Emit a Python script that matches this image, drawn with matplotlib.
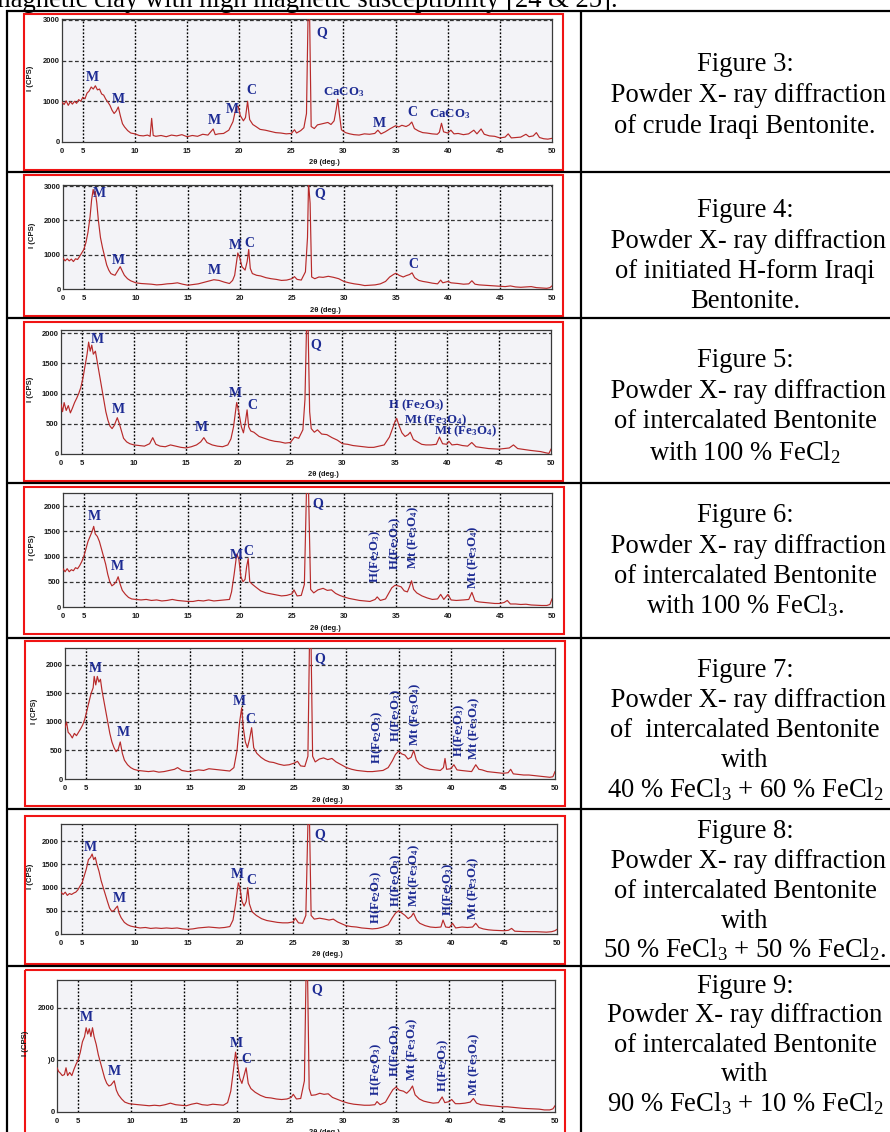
import matplotlib
matplotlib.use("Agg")
import matplotlib.pyplot as plt
from matplotlib.patches import Rectangle

plt.rcParams['mathtext.fontset'] = 'custom'
plt.rcParams['mathtext.rm'] = 'Liberation Serif'
plt.rcParams['mathtext.it'] = 'Liberation Serif:italic'
plt.rcParams['mathtext.bf'] = 'Liberation Serif:bold'

# ---------------- DATA ----------------
x_ticks = [3, 5, 10, 15, 20, 25, 30, 35, 40, 45, 50]
x_tick_labels = ['0', '5', '10', '15', '20', '25', '30', '35', '40', '45', '50']

xrd_fig3 = [(3.0,980),(3.2,920),(3.4,1010),(3.6,900),(3.8,990),(4.0,930),(4.2,1000),(4.4,950),(4.6,1040),(4.8,1000),
 (5.0,1100),(5.2,1060),(5.4,1200),(5.6,1250),(5.8,1350),(6.0,1300),(6.2,1380),(6.4,1280),(6.6,1300),(6.8,1180),
 (7.0,1150),(7.2,1050),(7.4,980),(7.6,900),(7.8,780),(8.0,700),(8.2,760),(8.4,860),(8.6,640),(8.8,450),(9.0,370),
 (9.3,280),(9.6,220),(10.0,200),(10.4,160),(10.8,150),(11.2,170),(11.45,140),(11.6,580),(11.75,160),(12.0,140),
 (12.5,160),(13.0,130),(13.5,170),(14.0,150),(14.5,180),(15.0,130),(15.5,160),(16.0,140),(16.5,190),(17.0,170),
 (17.5,320),(17.7,180),(18.0,200),(18.5,210),(19.0,290),(19.4,500),(19.7,850),(19.9,880),(20.1,650),(20.4,520),
 (20.6,600),(20.8,1000),(21.0,550),(21.3,430),(21.6,380),(22.0,310),(22.5,290),(23.0,260),(23.5,230),(24.0,220),
 (24.5,200),(25.0,210),(25.3,300),(25.5,220),(25.9,280),(26.2,350),(26.45,700),(26.6,3100),(26.75,3100),(26.9,380),
 (27.2,330),(27.5,420),(28.0,450),(28.5,480),(28.8,430),(29.1,520),(29.3,800),(29.45,1050),(29.6,700),(29.8,300),
 (30.2,230),(30.6,200),(31.0,180),(31.5,170),(32.0,200),(32.5,190),(33.0,210),(33.3,290),(33.6,200),(34.0,250),
 (34.5,330),(35.0,400),(35.3,370),(35.6,410),(36.0,380),(36.3,420),(36.55,490),(36.8,330),(37.2,270),(37.6,230),
 (38.0,220),(38.5,200),(39.0,190),(39.2,240),(39.4,460),(39.6,250),(40.0,220),(40.3,290),(40.6,200),(41.0,210),
 (41.5,180),(42.0,200),(42.5,290),(42.8,200),(43.2,320),(43.5,190),(44.0,150),(44.5,140),(45.0,100),(45.5,120),
 (45.8,200),(46.1,100),(46.5,110),(47.0,120),(47.5,190),(47.8,130),(48.2,150),(48.5,230),(48.8,110),(49.2,80),
 (49.6,70),(50.0,90)]

xrd_fig4 = [(3.0,900),(3.2,820),(3.4,880),(3.6,820),(3.8,870),(4.0,800),(4.2,880),(4.4,860),(4.6,950),(4.8,1050),
 (5.0,1150),(5.2,1350),(5.4,1650),(5.6,2100),(5.75,2600),(5.9,2900),(6.0,2750),(6.1,2850),(6.25,2500),(6.4,2000),
 (6.6,1500),(6.8,1200),(7.0,950),(7.2,700),(7.4,550),(7.6,450),(7.8,420),(8.0,400),(8.2,500),(8.5,650),(8.7,520),
 (8.9,400),(9.2,300),(9.5,240),(10.0,180),(10.5,160),(11.0,150),(11.5,140),(12.0,120),(12.5,130),(13.0,150),
 (13.5,160),(14.0,180),(14.5,140),(15.0,110),(15.5,130),(16.0,150),(16.5,190),(17.0,230),(17.5,270),(18.0,250),
 (18.5,200),(19.0,160),(19.3,250),(19.5,400),(19.8,1050),(20.0,900),(20.2,650),(20.5,550),(20.7,800),(20.85,1150),
 (21.0,600),(21.2,450),(21.6,400),(22.0,380),(22.5,330),(23.0,300),(23.5,280),(24.0,250),(24.5,260),(25.0,300),
 (25.25,360),(25.5,280),(25.9,260),(26.3,500),(26.5,1500),(26.6,3100),(26.75,2500),(26.9,350),(27.2,300),(27.6,350),
 (28.0,340),(28.5,370),(29.0,340),(29.5,300),(30.0,220),(30.5,180),(31.0,150),(31.5,130),(32.0,100),(32.5,110),
 (33.0,120),(33.5,150),(34.0,220),(34.4,350),(34.8,430),(35.0,460),(35.3,400),(35.7,350),(36.0,390),(36.3,420),
 (36.55,470),(36.8,330),(37.2,250),(37.6,220),(38.0,200),(38.5,170),(39.0,150),(39.3,260),(39.5,180),(40.0,220),
 (40.3,180),(41.0,160),(41.5,140),(42.0,150),(42.3,240),(42.6,140),(43.0,120),(43.5,110),(44.0,100),(44.5,90),
 (45.0,80),(45.5,70),(46.0,90),(46.5,60),(47.0,50),(47.5,60),(48.0,70),(48.5,40),(49.0,30),(49.5,20),(49.8,40),
 (50.0,90)]

xrd_fig5 = [(3.0,820),(3.15,700),(3.3,850),(3.5,720),(3.7,800),(3.9,680),(4.1,760),(4.3,850),(4.5,920),(4.7,1000),
 (4.9,1100),(5.1,1250),(5.3,1450),(5.5,1650),(5.65,1850),(5.8,1700),(5.95,1800),(6.1,1650),(6.3,1700),(6.5,1500),
 (6.7,1300),(6.9,1100),(7.1,900),(7.3,700),(7.5,560),(7.7,460),(7.9,420),(8.1,470),(8.4,600),(8.6,500),(8.8,380),
 (9.0,260),(9.3,200),(9.6,170),(10.0,150),(10.5,140),(11.0,130),(11.5,170),(11.8,270),(12.1,160),(12.5,130),
 (13.0,120),(13.5,150),(14.0,130),(14.5,110),(15.0,100),(15.5,120),(16.0,150),(16.4,200),(16.7,270),(17.0,190),
 (17.5,150),(18.0,130),(18.5,120),(19.0,150),(19.3,250),(19.55,450),(19.85,850),(20.05,700),(20.3,450),(20.5,350),
 (20.7,550),(20.85,730),(21.0,450),(21.2,380),(21.5,360),(22.0,290),(22.5,260),(23.0,230),(23.5,210),(24.0,200),
 (24.5,180),(25.0,190),(25.4,280),(25.8,260),(26.2,400),(26.4,900),(26.55,2100),(26.7,2100),(26.85,700),(27.0,420),
 (27.3,360),(27.6,400),(28.0,330),(28.5,320),(29.0,270),(29.5,230),(30.0,170),(30.5,160),(31.0,140),(31.5,130),
 (32.0,120),(32.5,110),(33.0,110),(33.5,130),(34.0,150),(34.5,280),(34.8,420),(35.0,520),(35.2,590),(35.4,480),
 (35.7,350),(36.0,290),(36.3,320),(36.5,360),(36.8,240),(37.2,200),(37.6,160),(38.0,150),(38.5,150),(39.0,160),
 (39.3,280),(39.6,170),(40.0,160),(40.2,210),(40.5,150),(41.0,160),(41.5,140),(42.0,130),(42.4,190),(42.8,120),
 (43.2,110),(43.6,100),(44.0,90),(44.5,85),(45.0,80),(45.5,90),(46.0,100),(46.4,150),(46.8,90),(47.2,80),(47.6,70),
 (48.0,60),(48.5,50),(49.0,40),(49.5,20),(49.8,10),(50.0,80)]

xrd_fig6 = [(3.0,760),(3.2,700),(3.4,760),(3.6,700),(3.8,740),(4.0,720),(4.2,780),(4.4,760),(4.6,820),(4.8,900),
 (5.0,1000),(5.2,1150),(5.4,1300),(5.6,1400),(5.8,1500),(5.95,1600),(6.1,1450),(6.3,1400),(6.5,1300),(6.7,1150),
 (6.9,1000),(7.1,850),(7.3,650),(7.5,500),(7.7,420),(7.9,450),(8.1,500),(8.3,600),(8.5,450),(8.7,330),(9.0,250),
 (9.3,190),(9.6,160),(10.0,150),(10.5,140),(11.0,150),(11.5,130),(12.0,140),(12.5,120),(13.0,130),(13.5,150),
 (14.0,130),(14.5,120),(15.0,110),(15.5,110),(16.0,130),(16.5,120),(17.0,140),(17.5,120),(18.0,130),(18.5,140),
 (19.0,150),(19.2,300),(19.45,650),(19.7,1050),(19.9,950),(20.1,600),(20.3,500),(20.5,550),(20.65,800),(20.8,960),
 (20.95,500),(21.2,450),(21.5,400),(22.0,320),(22.5,280),(23.0,260),(23.5,240),(24.0,220),(24.5,230),(25.0,260),
 (25.2,340),(25.5,220),(25.9,230),(26.2,450),(26.4,2300),(26.6,2300),(26.8,350),(27.1,280),(27.5,340),(28.0,370),
 (28.4,330),(28.8,340),(29.2,270),(29.6,230),(30.0,200),(30.5,170),(31.0,150),(31.5,130),(32.0,120),(32.5,110),
 (33.0,150),(33.2,200),(33.5,130),(34.0,160),(34.3,270),(34.6,380),(34.9,430),(35.2,420),(35.5,400),(35.8,320),
 (36.1,300),(36.3,400),(36.5,520),(36.7,350),(37.0,280),(37.5,220),(38.0,180),(38.5,150),(39.0,160),(39.3,250),
 (39.6,150),(40.0,250),(40.3,140),(40.8,130),(41.5,140),(42.0,150),(42.3,290),(42.6,120),(43.0,100),(43.5,90),
 (44.0,80),(44.5,70),(45.0,70),(45.4,90),(45.7,130),(46.0,60),(46.5,60),(47.0,50),(47.5,55),(48.0,40),(48.5,35),
 (49.0,30),(49.5,30),(49.8,50),(50.0,160)]

xrd_fig7 = [(3.0,900),(3.15,1000),(3.3,820),(3.5,780),(3.7,720),(3.9,800),(4.1,760),(4.3,820),(4.5,880),(4.7,950),
 (4.9,1050),(5.1,1200),(5.3,1350),(5.5,1500),(5.7,1600),(5.8,1800),(5.95,1650),(6.1,1800),(6.25,1700),(6.4,1750),
 (6.55,1550),(6.7,1400),(6.9,1200),(7.1,1000),(7.3,800),(7.5,650),(7.7,550),(7.9,480),(8.1,520),(8.3,650),(8.5,450),
 (8.7,330),(9.0,250),(9.3,200),(9.6,170),(10.0,150),(10.5,140),(11.0,130),(11.5,140),(12.0,120),(12.5,130),(13.0,150),
 (13.5,170),(13.8,200),(14.2,150),(14.8,130),(15.3,140),(15.8,160),(16.3,150),(16.8,180),(17.3,170),(17.8,160),
 (18.3,150),(18.8,140),(19.2,200),(19.5,500),(19.75,1000),(19.95,1250),(20.1,900),(20.3,650),(20.5,550),(20.7,700),
 (20.9,900),(21.1,550),(21.4,450),(21.8,380),(22.2,330),(22.6,300),(23.0,290),(23.5,260),(24.0,240),(24.5,250),
 (25.0,280),(25.3,310),(25.6,230),(26.0,220),(26.3,400),(26.45,2400),(26.6,2400),(26.75,400),(27.0,300),(27.4,350),
 (27.8,370),(28.2,340),(28.6,360),(29.0,300),(29.5,250),(30.0,200),(30.5,170),(31.0,150),(31.5,140),(32.0,130),
 (32.5,130),(33.0,140),(33.5,150),(34.0,200),(34.4,320),(34.7,430),(35.0,490),(35.3,440),(35.6,420),(35.9,350),
 (36.2,380),(36.45,500),(36.7,330),(37.0,260),(37.5,200),(38.0,170),(38.5,160),(39.0,150),(39.3,200),(39.45,360),
 (39.6,170),(40.0,180),(40.3,250),(40.6,160),(41.0,150),(41.5,140),(42.0,130),(42.4,250),(42.7,170),(43.0,160),
 (43.5,130),(44.0,120),(44.5,110),(45.0,100),(45.5,110),(45.75,170),(46.0,90),(46.5,80),(47.0,70),(47.5,70),
 (48.0,60),(48.5,50),(49.0,40),(49.5,30),(49.8,40),(50.0,130)]

xrd_fig8 = [(3.0,900),(3.2,850),(3.4,900),(3.6,830),(3.8,870),(4.0,850),(4.2,880),(4.4,900),(4.6,950),(4.8,1030),
 (5.0,1100),(5.2,1250),(5.4,1400),(5.6,1600),(5.8,1650),(5.95,1720),(6.1,1600),(6.25,1650),(6.4,1500),(6.6,1350),
 (6.8,1150),(7.0,1000),(7.2,850),(7.4,700),(7.6,560),(7.8,490),(8.0,500),(8.2,560),(8.35,600),(8.5,450),(8.7,350),
 (9.0,250),(9.3,200),(9.6,170),(10.0,150),(10.5,130),(11.0,140),(11.5,120),(12.0,130),(12.5,120),(13.0,130),
 (13.5,120),(14.0,130),(14.5,110),(15.0,100),(15.5,110),(16.0,130),(16.5,140),(17.0,150),(17.5,140),(18.0,130),
 (18.5,140),(19.0,160),(19.3,300),(19.55,650),(19.8,1100),(19.95,1000),(20.15,700),(20.35,600),(20.55,700),
 (20.7,1000),(20.85,650),(21.1,480),(21.5,400),(22.0,330),(22.5,290),(23.0,270),(23.5,250),(24.0,240),(24.5,240),
 (25.0,260),(25.2,340),(25.5,240),(25.9,230),(26.2,400),(26.4,2400),(26.55,2400),(26.7,400),(27.0,320),(27.5,340),
 (28.0,320),(28.4,300),(28.8,320),(29.2,260),(29.6,220),(30.0,180),(30.5,160),(31.0,150),(31.5,130),(32.0,120),
 (32.5,110),(33.0,120),(33.5,150),(34.0,200),(34.4,350),(34.7,450),(35.0,500),(35.3,450),(35.6,400),(35.9,330),
 (36.2,380),(36.4,450),(36.7,300),(37.0,230),(37.5,180),(38.0,150),(38.5,140),(39.0,150),(39.2,300),(39.45,150),
 (39.8,140),(40.1,230),(40.4,130),(41.0,150),(41.5,140),(42.0,150),(42.3,230),(42.6,140),(43.0,110),(43.5,90),
 (44.0,80),(44.5,75),(45.0,70),(45.4,80),(45.7,120),(46.0,60),(46.5,55),(47.0,50),(47.5,50),(48.0,50),(48.5,45),
 (49.0,40),(49.5,50),(49.8,70),(50.0,100)]

xrd_fig9 = [(3.0,850),(3.15,780),(3.3,750),(3.5,700),(3.7,720),(3.85,850),(4.0,700),(4.2,760),(4.4,700),(4.6,820),
 (4.8,920),(5.0,1000),(5.2,1150),(5.4,1350),(5.6,1450),(5.75,1620),(5.9,1500),(6.05,1600),(6.2,1450),(6.35,1620),
 (6.5,1450),(6.7,1300),(6.9,1100),(7.1,950),(7.3,800),(7.5,650),(7.7,550),(7.9,500),(8.1,520),(8.4,600),(8.6,420),
 (8.8,330),(9.1,250),(9.4,190),(9.8,160),(10.2,150),(10.7,140),(11.2,130),(11.7,120),(12.2,130),(12.7,120),
 (13.2,140),(13.7,170),(14.2,140),(14.7,130),(15.2,120),(15.7,150),(16.2,170),(16.7,140),(17.2,130),(17.7,150),
 (18.2,140),(18.7,130),(19.1,180),(19.4,400),(19.65,800),(19.85,1150),(20.05,900),(20.25,650),(20.45,550),
 (20.65,700),(20.85,850),(21.05,550),(21.3,450),(21.7,380),(22.2,320),(22.7,280),(23.2,270),(23.7,250),(24.2,240),
 (24.7,250),(25.1,280),(25.3,340),(25.6,250),(26.0,260),(26.35,600),(26.5,2600),(26.65,2600),(26.8,450),(27.0,320),
 (27.4,330),(27.8,360),(28.2,340),(28.6,350),(29.0,280),(29.5,240),(30.0,200),(30.5,170),(31.0,150),(31.5,140),
 (32.0,130),(32.5,130),(33.0,140),(33.2,200),(33.5,140),(34.0,190),(34.4,330),(34.7,430),(35.0,480),(35.3,420),
 (35.7,400),(36.0,360),(36.3,420),(36.55,500),(36.8,330),(37.2,250),(37.6,210),(38.0,190),(38.5,170),(39.0,180),
 (39.35,290),(39.6,180),(40.0,200),(40.25,240),(40.6,160),(41.0,160),(41.5,170),(42.0,190),(42.3,260),(42.6,170),
 (43.0,140),(43.5,130),(44.0,120),(44.5,110),(45.0,100),(45.5,100),(46.0,90),(46.5,80),(47.0,70),(47.5,65),
 (48.0,60),(48.5,55),(49.0,40),(49.5,40),(49.8,60),(50.0,120)]

y_ticks_fig3 = [0, 1000, 2000, 3000]
y_ticks_fig4 = [0, 1000, 2000, 3000]
y_ticks_fig5 = [0, 500, 1000, 1500, 2000]
y_ticks_fig6 = [0, 500, 1000, 1500, 2000]
y_ticks_fig7 = [0, 500, 1000, 1500, 2000]
y_ticks_fig8 = [0, 500, 1000, 1500, 2000]
y_ticks_fig9 = [0, 1000, 2000]
y_tick_labels_fig9 = ['0', ')0', '2000']

H2 = r'H(Fe$_\mathbf{2}$O$_\mathbf{3}$)'
H2s = r'H (Fe$_\mathbf{2}$O$_\mathbf{3}$)'
MT = r'Mt (Fe$_\mathbf{3}$O$_\mathbf{4}$)'
CACO3 = r'CaCO$_\mathbf{3}$'

labels_fig3 = [("M",5.9,1590,0),("M",8.4,1050,0),("M",17.6,540,0),("M",19.3,810,0),("C",21.2,1260,0),
               ("Q",27.9,2690,0),(CACO3,30.0,1220,0),("M",33.4,450,0),("C",36.6,720,0),(CACO3,40.2,680,0)]
labels_fig4 = [("M",6.5,2780,0),("M",8.3,840,0),("M",17.5,550,0),("M",19.6,1280,0),("C",20.9,1330,0),
               ("Q",27.7,2780,0),("C",36.7,700,0)]
labels_fig5 = [("M",6.5,1890,0),("M",8.5,730,0),("M",16.5,430,0),("M",19.7,1000,0),("C",21.4,800,0),
               ("Q",27.4,1810,0),(H2s,37.1,810,0),(MT,38.9,565,0),(MT,41.8,370,0)]
labels_fig6 = [("M",6.0,1790,0),("M",8.2,795,0),("M",19.7,1030,0),("C",20.8,1110,0),("Q",27.5,2050,0),
               (H2,33.0,1000,90),(H2,34.9,1270,90),(MT,36.7,1380,90),(MT,42.4,980,90)]
labels_fig7 = [("M",5.9,1930,0),("M",8.6,820,0),("M",19.7,1360,0),("C",20.8,1035,0),("Q",27.4,2120,0),
               (H2,33.0,740,90),(H2,34.8,1120,90),(MT,36.6,1140,90),(H2,40.8,850,90),(MT,42.3,880,90)]
labels_fig8 = [("M",5.8,1870,0),("M",8.5,755,0),("M",19.7,1270,0),("C",21.0,1140,0),("Q",27.5,2135,0),
               (H2,32.9,790,90),(H2,34.8,1160,90),(MT,36.5,1250,90),(H2,39.7,970,90),(MT,42.1,970,90)]
labels_fig9 = [("M",5.8,1815,0),("M",8.4,780,0),("M",19.9,1315,0),("C",20.9,1015,0),("Q",27.5,2360,0),
               (H2,33.1,820,90),(H2,34.9,1190,90),(MT,36.5,1205,90),(H2,39.5,900,90),(MT,42.4,920,90)]

captions = [
    ["Figure 3:", " Powder X- ray diffraction", "of crude Iraqi Bentonite."],
    ["Figure 4:", " Powder X- ray diffraction", "of initiated H-form Iraqi", "Bentonite."],
    ["Figure 5:", " Powder X- ray diffraction", "of intercalated Bentonite", r"with 100 % FeCl$_2$"],
    ["Figure 6:", " Powder X- ray diffraction", "of intercalated Bentonite", r"with 100 % FeCl$_3$."],
    ["Figure 7:", " Powder X- ray diffraction", "of  intercalated Bentonite", "with",
     r"40 % FeCl$_3$ + 60 % FeCl$_2$"],
    ["Figure 8:", " Powder X- ray diffraction", "of intercalated Bentonite", "with",
     r"50 % FeCl$_3$ + 50 % FeCl$_2$."],
    ["Figure 9:", "Powder X- ray diffraction", "of intercalated Bentonite", "with",
     r"90 % FeCl$_3$ + 10 % FeCl$_2$"],
]
top_text = "magnetic clay with high magnetic susceptibility [24 & 25]."

# ---------------- LAYOUT (pixels) ----------------
W, H = 890, 1132
table_hlines = [11, 172, 318, 483, 638, 809, 966]
table_vlines = [7, 581]
red_boxes = [(24, 14, 563, 170), (24, 175, 563, 316), (24, 322, 563, 481), (24, 487, 564, 634),
             (25, 641, 565, 806), (25, 816, 565, 964), (25, 970, 565, 1145)]
# axes: left, right, top, bottom (bottom = zero line)
axes_px = [(62, 552, 19, 142), (63, 552, 185, 289), (61, 551, 330, 454), (63, 552, 493, 607),
           (65, 555, 648, 779), (61, 557, 824, 934), (57, 555, 980, 1112)]
ytops = [3020, 3030, 2050, 2262, 2298, 2366, 2538]
caption_baselines = [[71, 102, 133], [217, 248, 278, 308], [367, 398, 428, 460], [522, 553, 583, 613],
                     [677, 707, 737, 767, 797], [838, 868, 898, 928, 957], [993, 1022, 1052, 1081, 1111]]

series = [xrd_fig3, xrd_fig4, xrd_fig5, xrd_fig6, xrd_fig7, xrd_fig8, xrd_fig9]
yticks_all = [y_ticks_fig3, y_ticks_fig4, y_ticks_fig5, y_ticks_fig6, y_ticks_fig7, y_ticks_fig8, y_ticks_fig9]
ylabels_all = [None, None, None, None, None, None, y_tick_labels_fig9]
labels_all = [labels_fig3, labels_fig4, labels_fig5, labels_fig6, labels_fig7, labels_fig8, labels_fig9]

LINE_RED = '#b82a2a'
LABEL_BLUE = '#1d2b93'
SERIF = 'Liberation Serif'
SANS = 'Liberation Sans'

fig = plt.figure(figsize=(W / 100, H / 100), dpi=100)
fig.patch.set_facecolor('white')
bg = fig.add_axes([0, 0, 1, 1], zorder=0)
bg.set_xlim(0, W)
bg.set_ylim(H, 0)
bg.axis('off')

# table lines
for y in table_hlines:
    bg.plot([table_vlines[0] - 1, W + 5], [y, y], color='black', lw=1.6, solid_capstyle='butt')
for x in table_vlines:
    bg.plot([x, x], [table_hlines[0] - 1, H + 5], color='black', lw=1.6, solid_capstyle='butt')

# red boxes
for (l, t, r, b) in red_boxes:
    bg.add_patch(Rectangle((l, t), r - l, b - t, fill=False, edgecolor='#f01414', lw=1.5))

# top (cut) text
bg.text(-10, 7, top_text, family=SERIF, fontsize=19.2, ha='left', va='baseline', color='black')

# captions
for lines, bls in zip(captions, caption_baselines):
    for s, yb in zip(lines, bls):
        bg.text(745, yb, s, family=SERIF, fontsize=19.2, ha='center', va='baseline', color='black')

# XRD panels
for i in range(7):
    l, r, t, b = axes_px[i]
    ax = fig.add_axes([l / W, 1 - b / H, (r - l) / W, (b - t) / H], zorder=2)
    ax.set_facecolor('#f3f3f7')
    xs = [p[0] for p in series[i]]
    ys = [p[1] for p in series[i]]
    ax.set_xlim(3, 50)
    ax.set_ylim(0, ytops[i])
    for xv in [5, 10, 15, 20, 25, 30, 35, 40, 45]:
        ax.axvline(xv, color='black', lw=1.0, ls=(0, (1.3, 1.3)), zorder=1)
    for yv in yticks_all[i][1:]:
        ax.axhline(yv, color='#333333', lw=0.9, ls=(0, (3, 2)), zorder=1)
    ax.plot(xs, ys, color=LINE_RED, lw=0.85, zorder=3)
    ax.set_xticks(x_ticks)
    ax.set_xticklabels(x_tick_labels)
    ax.set_yticks(yticks_all[i])
    if ylabels_all[i] is not None:
        ax.set_yticklabels(ylabels_all[i])
    else:
        ax.set_yticklabels([str(v) for v in yticks_all[i]])
    ax.tick_params(axis='both', length=0, labelsize=5.5, colors='#1a1a1a')
    ax.tick_params(axis='x', pad=4)
    ax.tick_params(axis='y', pad=1.5)
    for lab in ax.get_xticklabels() + ax.get_yticklabels():
        lab.set_fontweight('bold')
        lab.set_family(SANS)
    for sp in ax.spines.values():
        sp.set_color('#3a3a3a')
        sp.set_linewidth(0.9)
    # axis titles
    ax.annotate('I (CPS)', xy=(0, 0.52), xycoords='axes fraction', xytext=(-31 * 0.72, 0),
                textcoords='offset points', rotation=90, ha='center', va='center',
                fontsize=5.6, fontweight='bold', family=SANS, color='#1a1a1a')
    ax.annotate('2θ (deg.)', xy=(28.2, 0), xycoords=('data', 'axes fraction'), xytext=(0, -21 * 0.72),
                textcoords='offset points', ha='center', va='center',
                fontsize=5.4, fontweight='bold', family=SANS, color='#1a1a1a', annotation_clip=False)
    # phase labels
    for (s, lx, ly, rot) in labels_all[i]:
        fs = 10 if (rot == 0 and len(s) < 4) else 9.3
        ax.text(lx, ly, s, color=LABEL_BLUE, fontsize=fs, fontweight='bold',
                family=SERIF, ha='center', va='center', rotation=rot, zorder=4, clip_on=False)

fig.savefig('out.png', dpi=100, facecolor='white')
